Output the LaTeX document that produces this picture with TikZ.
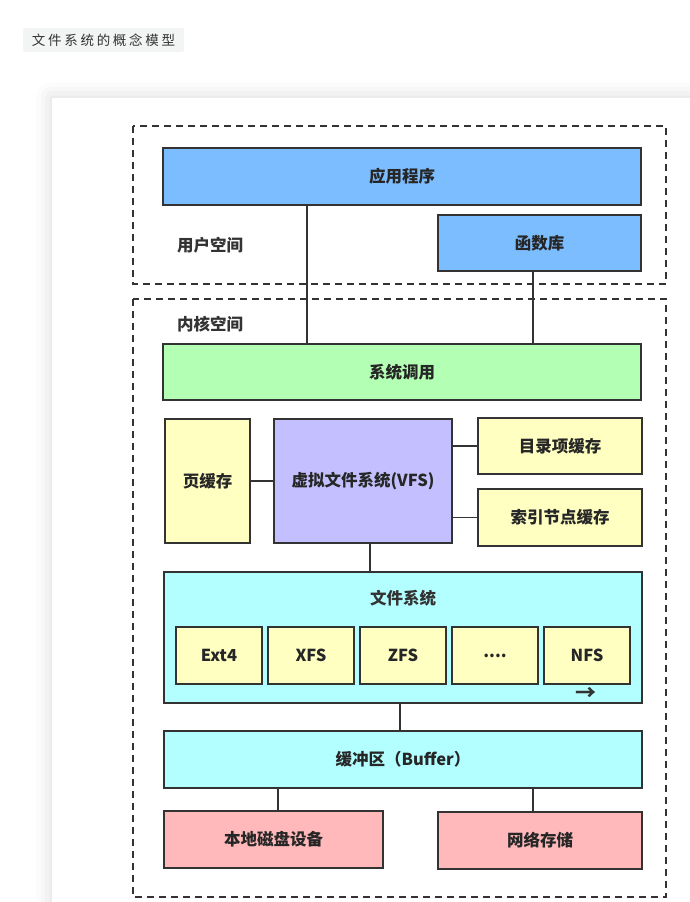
\documentclass[tikz,border=0pt]{standalone}
\usepackage{fontspec}
\setmainfont{Noto Sans CJK SC}
\newfontfamily\cjk{Noto Sans CJK SC}
\newfontfamily\cjktitle[LetterSpace=20]{Noto Sans CJK SC}
\usepackage{tikz}
\usetikzlibrary{calc,positioning,shadows.blur,backgrounds}

\definecolor{appblue}{HTML}{7CBDFF}
\definecolor{callgreen}{HTML}{B3FFB3}
\definecolor{cacheyellow}{HTML}{FFFFC2}
\definecolor{vfspurple}{HTML}{C4C0FF}
\definecolor{fscyan}{HTML}{B3FFFF}
\definecolor{devpink}{HTML}{FFB9BA}
\definecolor{edgegray}{HTML}{333333}
\definecolor{titlebg}{HTML}{F3F4F4}

\tikzset{
  blockbox/.style={draw=edgegray,line width=1.2pt,inner sep=0pt,outer sep=0pt,
    font=\cjk\bfseries\fontsize{16.5}{19}\selectfont,text=black!85},
  spacebox/.style={draw=edgegray,line width=1.3pt,dash pattern=on 7pt off 5pt},
  spacelabel/.style={font=\cjk\bfseries\fontsize{16.5}{19}\selectfont,text=black!80},
  link/.style={draw=edgegray,line width=1.2pt}
}

\begin{document}
\begin{tikzpicture}[x=1pt,y=-1pt]
		\useasboundingbox (0,0) rectangle (690,902);
		% title
		\node(title) [fill=titlebg,rounded corners=2pt,minimum width=161pt,minimum height=24pt,inner sep=0pt,
			font=\cjktitle\fontsize{13.5}{15}\selectfont,text=black!80] at (103.5,40) {文件系统的概念模型};
		% card
		\fill [white,blur shadow={shadow xshift=0pt,shadow yshift=0pt,shadow blur radius=16pt,shadow opacity=16}] (52,98) rectangle (720,930);
		% spaces
		\draw [spacebox] (133,126) rectangle (666,284);
		\draw [spacebox] (133,299) rectangle (666,897);
		\node(userlbl) [spacelabel] at (210,245) {用户空间};
		\node(kernlbl) [spacelabel] at (210,324) {内核空间};
		% user space
		\node(app) [blockbox,fill=appblue,minimum width=478pt,minimum height=57pt] at (402,176.5) {应用程序};
		\node(lib) [blockbox,fill=appblue,minimum width=203pt,minimum height=56pt] at (539.5,243) {函数库};
		% kernel space
		\node(sys) [blockbox,fill=callgreen,minimum width=478pt,minimum height=56pt] at (402,372) {系统调用};
		\node(vfs) [blockbox,fill=vfspurple,minimum width=178pt,minimum height=124pt] at (363,481) {虚拟文件系统(VFS)};
		\node(page) [blockbox,fill=cacheyellow,minimum width=85pt,minimum height=124pt,left=24pt of vfs] {页缓存};
		\node(dentry) [blockbox,fill=cacheyellow,minimum width=164pt,minimum height=56pt] at (560,446) {目录项缓存};
		\node(inode) [blockbox,fill=cacheyellow,minimum width=164pt,minimum height=57pt] at (560,517.5) {索引节点缓存};
		\node(fs) [blockbox,fill=fscyan,minimum width=478pt,minimum height=131pt] at (403,637.5) {};
		\node(fslbl) [spacelabel] at (403,598) {文件系统};
		\node(ext) [blockbox,fill=cacheyellow,minimum width=86pt,minimum height=57pt] at (219,655.5) {Ext4};
		\node(xfs) [blockbox,fill=cacheyellow,minimum width=86pt,minimum height=57pt,right=6pt of ext] {XFS};
		\node(zfs) [blockbox,fill=cacheyellow,minimum width=86pt,minimum height=57pt,right=6pt of xfs] {ZFS};
		\node(more) [blockbox,fill=cacheyellow,minimum width=86pt,minimum height=57pt,right=6pt of zfs] {....};
		\node(nfs) [blockbox,fill=cacheyellow,minimum width=86pt,minimum height=57pt,right=6pt of more] {NFS};
		\node(arrow) [font=\cjk\bfseries\fontsize{21}{22}\selectfont,text=black!80] at (586,694) {→};
		\node(buf) [blockbox,fill=fscyan,minimum width=478pt,minimum height=57pt] at (403,759.5) {缓冲区（Buffer）};
		\node(disk) [blockbox,fill=devpink,minimum width=219pt,minimum height=57pt] at (273.5,839.5) {本地磁盘设备};
		\node(net) [blockbox,fill=devpink,minimum width=204pt,minimum height=57pt] at (540,840.5) {网络存储};
		% links
		\coordinate (k1) at (307,0);
		\coordinate (k2) at (533,0);
		\coordinate (k3) at (370,0);
		\coordinate (k4) at (278,0);
		\draw [link] (app.south -| k1) -- (sys.north -| k1);
		\draw [link] (lib.south -| k2) -- (sys.north -| k2);
		\draw [link] (page.east) -- (vfs.west);
		\draw [link] (dentry.west) -- (dentry.west -| vfs.east);
		\draw [link] (inode.west) -- (inode.west -| vfs.east);
		\draw [link] (vfs.south -| k3) -- (fs.north -| k3);
		\draw [link] (fs.south -| 400,0) -- (buf.north -| 400,0);
		\draw [link] (buf.south -| k4) -- (disk.north -| k4);
		\draw [link] (buf.south -| k2) -- (net.north -| k2);
	\end{tikzpicture}
\end{document}
